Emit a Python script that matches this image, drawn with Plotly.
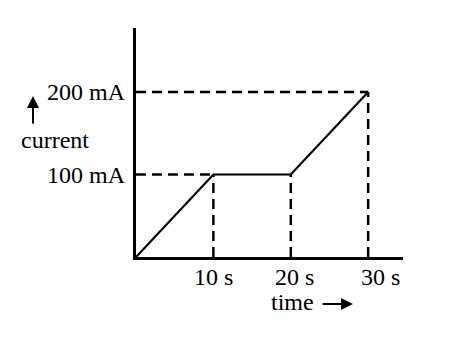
import plotly.graph_objects as go

# Data
time_s = [0, 10, 20, 30]
current_mA = [0, 100, 100, 200]
x_tick_vals = [10, 20, 30]
x_tick_text = ["10 s", "20 s", "30 s"]
y_tick_vals = [100, 200]
y_tick_text = ["100 mA", "200 mA"]

W, H = 474, 338
ML, MR, MT, MB = 136, 71, 28, 81
XR = [0, 34.5]
YR = [0, 277.6]
PW = W - ML - MR
PH = H - MT - MB

def px_to_paper(px, py):
    return (px - ML) / PW, (H - MB - py) / PH

FONT = "Liberation Serif"
FS = 24
DASH = "10px,6px"

fig = go.Figure()

# dashed guide lines (from data points)
for t, c in zip(time_s[1:], current_mA[1:]):
    fig.add_trace(go.Scatter(x=[t, t], y=[0, c], mode="lines",
                             line=dict(color="black", width=2.5, dash=DASH),
                             hoverinfo="skip", showlegend=False))
for t, c in [(time_s[1], current_mA[1]), (time_s[3], current_mA[3])]:
    fig.add_trace(go.Scatter(x=[0, t], y=[c, c], mode="lines",
                             line=dict(color="black", width=2.5, dash=DASH),
                             hoverinfo="skip", showlegend=False))

# main line
fig.add_trace(go.Scatter(x=time_s, y=current_mA, mode="lines",
                         line=dict(color="black", width=2.2),
                         showlegend=False))

anns = []
# y tick labels
for v, t in zip(y_tick_vals, y_tick_text):
    anns.append(dict(x=0, xref="paper", y=v, yref="y", text=t, showarrow=False,
                     xanchor="right", yanchor="middle", xshift=-8,
                     font=dict(family=FONT, size=FS, color="black")))
# x tick labels
for v, t, sh in zip(x_tick_vals, x_tick_text, [0, 4, 12]):
    anns.append(dict(x=v, xref="x", y=0, yref="y", text=t, showarrow=False,
                     xanchor="center", yanchor="top", yshift=-5, xshift=sh,
                     font=dict(family=FONT, size=FS, color="black")))

# axis title "current" with up arrow
cx, cy = px_to_paper(55, 140)
anns.append(dict(x=cx, y=cy, xref="paper", yref="paper", text="current",
                 showarrow=False, xanchor="center", yanchor="middle",
                 font=dict(family=FONT, size=FS, color="black")))
ax_, ay_ = px_to_paper(33, 96)
anns.append(dict(x=ax_, y=ay_, xref="paper", yref="paper", text="",
                 showarrow=True, ax=0, ay=29, arrowhead=2, arrowsize=1.2,
                 arrowwidth=2, arrowcolor="black"))

# axis title "time" with right arrow
tx, ty = px_to_paper(292, 302)
anns.append(dict(x=tx, y=ty, xref="paper", yref="paper", text="time",
                 showarrow=False, xanchor="center", yanchor="middle",
                 font=dict(family=FONT, size=FS, color="black")))
hx, hy = px_to_paper(353, 304)
anns.append(dict(x=hx, y=hy, xref="paper", yref="paper", text="",
                 showarrow=True, ax=-32, ay=0, arrowhead=2, arrowsize=1.2,
                 arrowwidth=2, arrowcolor="black"))

fig.update_layout(
    width=W, height=H,
    margin=dict(l=ML, r=MR, t=MT, b=MB),
    paper_bgcolor="white", plot_bgcolor="white",
    xaxis=dict(range=XR, showgrid=False, zeroline=False, showticklabels=False,
               showline=True, linecolor="black", linewidth=2.5, ticks=""),
    yaxis=dict(range=YR, showgrid=False, zeroline=False, showticklabels=False,
               showline=True, linecolor="black", linewidth=2.5, ticks=""),
    annotations=anns,
)

fig.write_html("out.html")
